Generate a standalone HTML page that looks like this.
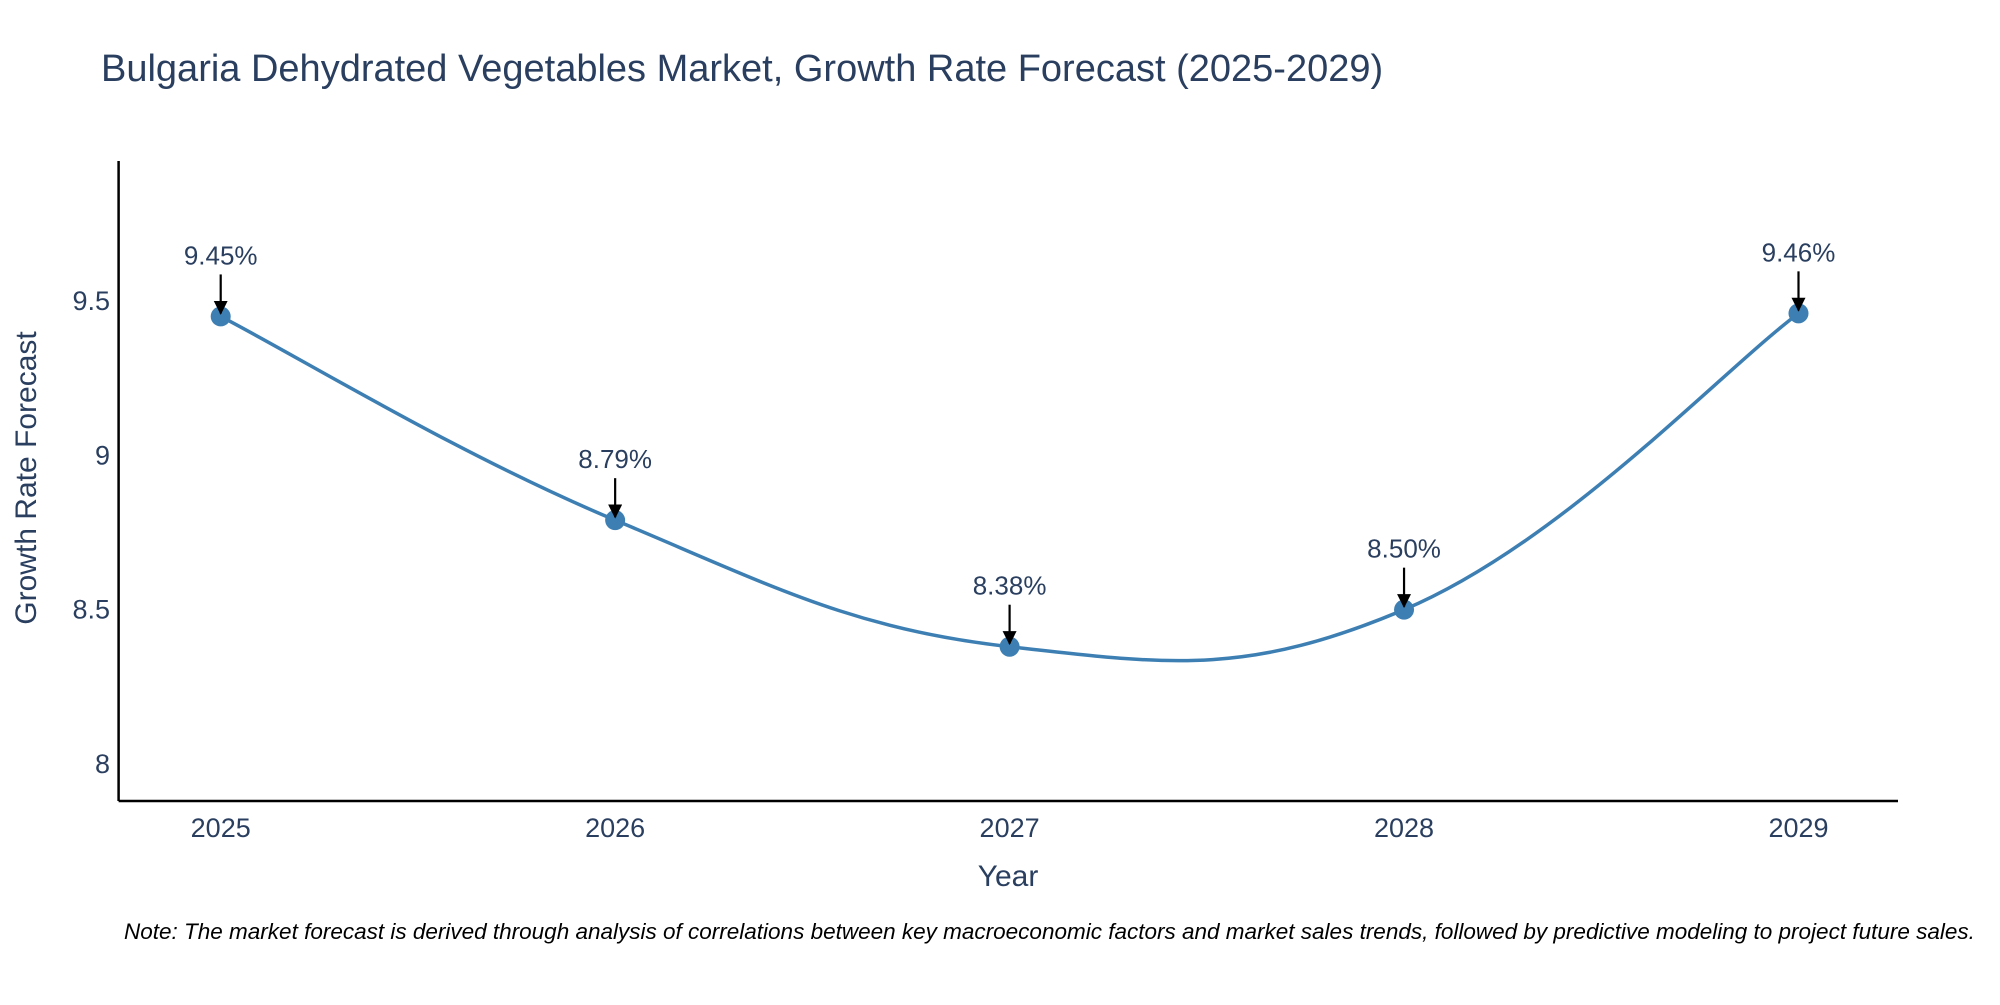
<!DOCTYPE html>
<html><head><meta charset="utf-8"><style>
body{margin:0;background:#fff;}
svg text{font-family:"Liberation Sans",sans-serif;fill:#2a3f5f;}
</style></head><body>
<svg width="2000" height="1000" viewBox="0 0 2000 1000">
<defs><marker id="ah" viewBox="0 0 10 10" refX="9" refY="5" markerWidth="7" markerHeight="7" markerUnits="userSpaceOnUse" orient="auto"><path d="M0,0 L10,5 L0,10 z" fill="#000"/></marker>
<marker id="ah2" viewBox="0 0 10 10" refX="9" refY="5" markerWidth="14" markerHeight="14" markerUnits="userSpaceOnUse" orient="auto"><path d="M0,0 L10,5 L0,10 z" fill="#000"/></marker></defs>
<text x="101" y="81" font-size="38">Bulgaria Dehydrated Vegetables Market, Growth Rate Forecast (2025-2029)</text>
<g id="plot"></g>
<line x1="118.6" y1="161" x2="118.6" y2="801" stroke="#000" stroke-width="2.5"/>
<line x1="118.6" y1="801" x2="1898" y2="801" stroke="#000" stroke-width="2.5"/>
<text x="1008" y="886" font-size="30" text-anchor="middle">Year</text>
<text transform="translate(36,478) rotate(-90)" font-size="30" text-anchor="middle">Growth Rate Forecast</text>
<text x="124" y="939" font-size="22.5" font-style="italic" style="fill:#000">Note: The market forecast is derived through analysis of correlations between key macroeconomic factors and market sales trends, followed by predictive modeling to project future sales.</text>
</svg>
<script>
const years=[2025,2026,2027,2028,2029];
const values=[9.45,8.79,8.38,8.50,9.46];
const yTicks=[8,8.5,9,9.5];
const labels=["9.45%","8.79%","8.38%","8.50%","9.46%"];
const NS="http://www.w3.org/2000/svg";
const g=document.getElementById('plot');
function xs(v){return 220.7+(v-2025)*(1798.5-220.7)/4;}
function ys(v){return 764-(v-8)*(463/1.5);}
function mk(t,a){const e=document.createElementNS(NS,t);for(const k in a)e.setAttribute(k,a[k]);g.appendChild(e);return e;}
yTicks.forEach(t=>{const e=mk('text',{x:110,y:ys(t)+9,'font-size':27,'text-anchor':'end'});e.textContent=t;

});
years.forEach(t=>{const e=mk('text',{x:xs(t),y:837,'font-size':27,'text-anchor':'middle'});e.textContent=t;

});
const P=years.map((y,i)=>[xs(y),ys(values[i])]);
let d=`M${P[0][0]},${P[0][1]}`;const s=1/5;
for(let i=0;i<P.length-1;i++){const p0=P[Math.max(i-1,0)],p1=P[i],p2=P[i+1],p3=P[Math.min(i+2,P.length-1)];
d+=` C${p1[0]+(p2[0]-p0[0])*s},${p1[1]+(p2[1]-p0[1])*s} ${p2[0]-(p3[0]-p1[0])*s},${p2[1]-(p3[1]-p1[1])*s} ${p2[0]},${p2[1]}`;}
const line=mk('path',{d:d,fill:'none',stroke:'#3d7fb3','stroke-width':3.5});


P.forEach((p,i)=>{const c=mk('circle',{cx:p[0],cy:p[1],r:10,fill:'#3d7fb3'});


const a=mk('line',{x1:p[0],y1:p[1]-42,x2:p[0],y2:p[1]-3,stroke:'#000','stroke-width':2.2,'marker-end':'url(#ah2)'});


const t=mk('text',{x:p[0],y:p[1]-52,'font-size':26,'text-anchor':'middle'});t.textContent=labels[i];

});
</script>
</body></html>
